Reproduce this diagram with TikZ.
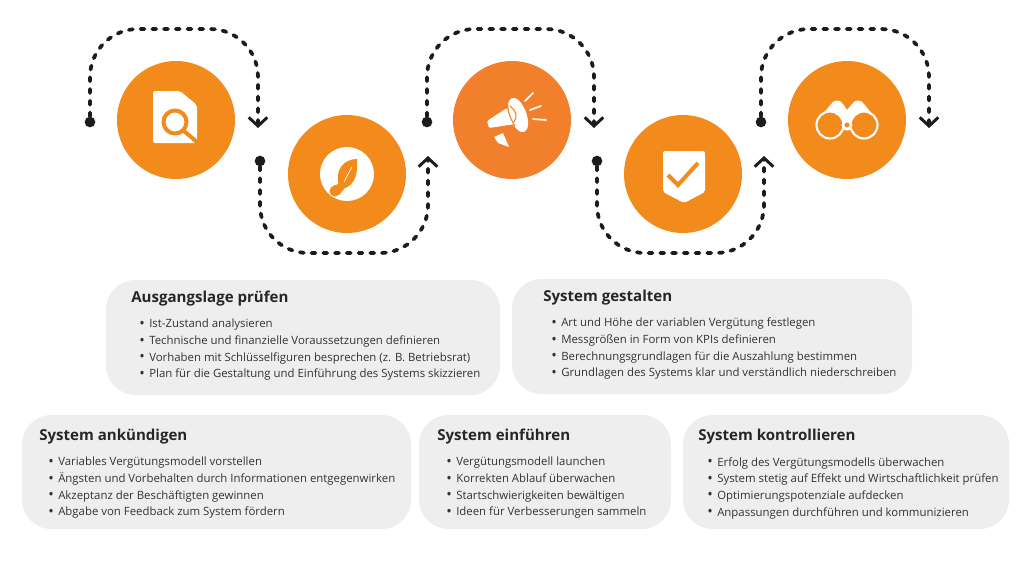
\documentclass[tikz,border=0pt]{standalone}
\usepackage{fontspec}
\setmainfont{Open Sans}
\usetikzlibrary{arrows.meta}
\definecolor{kreis}{HTML}{F28A1C}
\definecolor{kreisb}{HTML}{F27F2B}
\definecolor{feld}{HTML}{EEEEEE}
\definecolor{linie}{HTML}{1C1C1C}
\definecolor{schrift}{HTML}{333333}
\newcommand{\itm}{\makebox[7.5pt][l]{\raisebox{-.4pt}{\fontsize{11}{11}\selectfont\textbullet}}}
\tikzset{
  kr/.style={circle,fill=kreis,minimum size=88.5pt,inner sep=0pt},
  dot/.style={circle,fill=linie,minimum size=8pt,inner sep=0pt},
  flow/.style={draw=linie,line width=2.8pt,line cap=round,dash pattern=on 3pt off 5.8pt,rounded corners=36pt},
  pan/.style={fill=feld,rounded corners=22pt,inner sep=0pt},
  ttl/.style={anchor=base west,inner sep=0pt,font=\fontsize{11.3}{13}\selectfont\bfseries,text=black!85},
  bdy/.style={anchor=north west,inner sep=0pt,align=left,text=schrift,font=\fontsize{8.55}{12.5}\selectfont},
}
\begin{document}
\begin{tikzpicture}[x=.75pt,y=-.75pt,>={Straight Barb[length=6.5pt,width=14pt,line width=2.2pt]}]
\useasboundingbox (0,0) rectangle (1024,576);
\path
(176,120) node[kr] (c1) {}
(347,174) node[kr] (c2) {}
(512,120) node[kr,fill=kreisb] (c3) {}
(683,174) node[kr] (c4) {}
(847,120) node[kr] (c5) {}
(90,122)  node[dot] (d1) {}
(260,161) node[dot] (d2) {}
(427,122) node[dot] (d3) {}
(597,161) node[dot] (d4) {}
(761,122) node[dot] (d5) {};
\coordinate (e1) at (258,128);
\coordinate (e2) at (428,156);
\coordinate (e3) at (594,128);
\coordinate (e4) at (764,156);
\coordinate (e5) at (929,128);
\draw[flow,->] (d1) |- (258,29) -- (e1);
\draw[flow,->] (d2) |- (428,253) -- (e2);
\draw[flow,->] (d3) |- (594,29) -- (e3);
\draw[flow,->] (d4) |- (764,253) -- (e4);
\draw[flow,->] (d5) |- (929,29) -- (e5);

% Symbole
\fill[white,rounded corners=1.5pt] (153,91) -- (180,91) -- (197,105) -- (197,143) -- (153,143) -- cycle;
\draw[kreis,line width=3pt] (175,122) circle(11.5);
\draw[kreis,line width=3pt] (184,131) -- (198,143);
\fill[white] (347,174) circle(27);
\fill[kreis] (357,159) .. controls (344,159) and (334,170) .. (339,186) -- (343,189) .. controls (356,185) and (358,172) .. (357,159) -- cycle;
\draw[white,line width=.5pt] (344,182) .. controls (347,176) and (349,172) .. (352,167);
\fill[kreis] (335,191) circle(5.5);
\fill[kreis] (333,186) -- (341,183) -- (344,189) -- (339,195) -- cycle;
\fill[white,rounded corners=1pt] (487,121) -- (507,108) -- (515,124) -- (489,128) -- cycle;
\fill[white,rotate around={20:(518,115)}] (518,115) ellipse (8.5 and 18);
\draw[kreisb,line width=.8pt] (508,105) .. controls (507,110) and (511,120) .. (515,126);
\draw[kreisb,line width=.8pt] (510,106) .. controls (516,110) and (518,117) .. (514,122);
\fill[white] (494,137) -- (503,133) -- (509,147) -- (498,143) -- cycle;
\draw[white,line width=1.3pt,line cap=round] (525,101) -- (533,93) (530,110) -- (541,106) (533,119) -- (546,120);
\fill[white,rounded corners=1.5pt] (663,151) -- (705,151) -- (705,192) -- (684,203) -- (663,192) -- cycle;
\draw[kreis,line width=3pt] (668,175) -- (678,185) -- (698,163);
\fill[white] (837,107) circle(6.5) (858,107) circle(6.5);
\fill[white] (822,115) -- (831,104) -- (843,104) -- (847,110) -- (852,104) -- (864,104) -- (873,115) -- (865,130) -- (830,130) -- cycle;
\draw[white,line width=1.6pt,fill=kreis] (830,125) circle(13.5) (864,125) circle(13.5);
\fill[white] (847,125) circle(5.5);
\fill[kreis] (847,125) circle(2.5);

% Felder
\path
(106,280) rectangle (500,395) node[midway,pan,minimum width=295.5pt,minimum height=86.25pt] (p1) {}
(512,279) rectangle (912,394) node[midway,pan,minimum width=300pt,minimum height=86.25pt] (p2) {}
(22,415) rectangle (411,529) node[midway,pan,minimum width=291.75pt,minimum height=85.5pt] (p3) {}
(419,415) rectangle (671,529) node[midway,pan,minimum width=189pt,minimum height=85.5pt] (p4) {}
(683,415) rectangle (1009,529) node[midway,pan,minimum width=244.5pt,minimum height=85.5pt] (p5) {};

\node[ttl] (t1) at (131,302) {Ausgangslage prüfen};
\node[bdy] (b1) at (139,319) {\itm Ist-Zustand analysieren\\\itm Technische und finanzielle Voraussetzungen definieren\\\itm Vorhaben mit Schlüsselfiguren besprechen (z. B. Betriebsrat)\\\itm Plan für die Gestaltung und Einführung des Systems skizzieren};
\node[ttl] (t2) at (543,301) {System gestalten};
\node[bdy] (b2) at (551,318) {\itm Art und Höhe der variablen Vergütung festlegen\\\itm Messgrößen in Form von KPIs definieren\\\itm Berechnungsgrundlagen für die Auszahlung bestimmen\\\itm Grundlagen des Systems klar und verständlich niederschreiben};
\node[ttl] (t3) at (39,440) {System ankündigen};
\node[bdy] (b3) at (48,457) {\itm Variables Vergütungsmodell vorstellen\\\itm Ängsten und Vorbehalten durch Informationen entgegenwirken\\\itm Akzeptanz der Beschäftigten gewinnen\\\itm Abgabe von Feedback zum System fördern};
\node[ttl] (t4) at (437,440) {System einführen};
\node[bdy] (b4) at (446,457) {\itm Vergütungsmodell launchen\\\itm Korrekten Ablauf überwachen\\\itm Startschwierigkeiten bewältigen\\\itm Ideen für Verbesserungen sammeln};
\node[ttl] (t5) at (698,440) {System kontrollieren};
\node[bdy] (b5) at (707,457) {\itm Erfolg des Vergütungsmodells überwachen\\\itm System stetig auf Effekt und Wirtschaftlichkeit prüfen\\\itm Optimierungspotenziale aufdecken\\\itm Anpassungen durchführen und kommunizieren};
\end{tikzpicture}
\end{document}
